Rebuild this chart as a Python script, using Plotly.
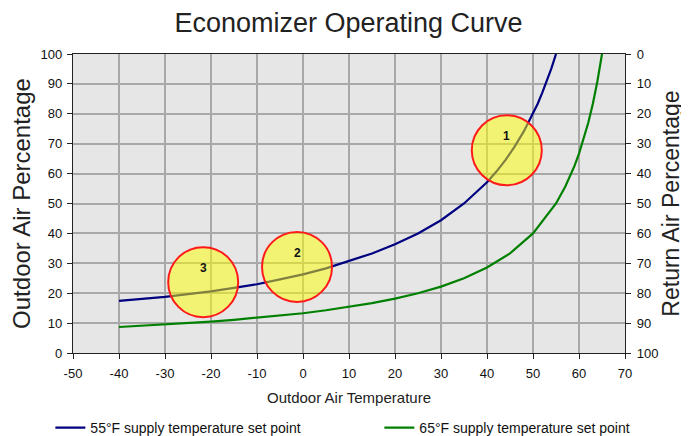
import plotly.graph_objects as go

# Outdoor air temperature (°F) and outdoor air percentage
blue_x = [-40, -35, -30, -25, -20, -15, -10, -5, 0, 5, 10, 15, 20, 25, 30, 35, 40,
          42, 44, 46, 48, 50, 51, 52, 53, 54, 55]
blue_y = [17.4, 18.0, 18.8, 19.7, 20.6, 21.8, 23.0, 24.6, 26.3, 28.3, 30.8, 33.3, 36.4,
          40.0, 44.4, 50.0, 57.1, 60.6, 64.5, 69.0, 74.1, 80.0, 83.3, 87.0, 90.9, 95.2, 100]

green_x = [-40, -35, -30, -25, -20, -15, -10, -5, 0, 5, 10, 15, 20, 25, 30, 35, 40,
           45, 50, 55, 57, 59, 60, 61, 62, 63, 64, 65]
green_y = [8.7, 9.1, 9.5, 10.0, 10.5, 11.1, 11.8, 12.5, 13.3, 14.3, 15.4, 16.7, 18.2,
           20.0, 22.2, 25.0, 28.6, 33.3, 40.0, 50.0, 55.6, 62.5, 66.7, 71.4, 76.9, 83.3,
           90.9, 100]

# Highlight circles: label, center temperature, center percentage
circle_labels = ["1", "2", "3"]
circle_x = [44.3, -1.3, -21.7]
circle_y = [67.8, 28.8, 23.7]

series_names = ["55°F supply temperature set point", "65°F supply temperature set point"]

x_ticks = list(range(-50, 71, 10))
x_ticktext = [str(v) for v in x_ticks]
y_ticks = list(range(0, 101, 10))
y_ticktext = [str(v) for v in y_ticks]

fig = go.Figure()
fig.add_trace(go.Scatter(x=blue_x, y=blue_y, mode="lines", name=series_names[0],
                         line=dict(color="#000080", width=2.2), legend="legend"))
fig.add_trace(go.Scatter(x=green_x, y=green_y, mode="lines", name=series_names[1],
                         line=dict(color="#008000", width=2.2), legend="legend2"))
# right-axis carrier (return air percentage)
fig.add_trace(go.Scatter(x=[None], y=[None], yaxis="y2", showlegend=False,
                         hoverinfo="skip"))

# circles sized in pixels: plot is 552 px / 120 units wide, 299 px / 100 units tall
r_px = 35
px_per_x = 552 / 120
px_per_y = 299 / 100
for lab, cx, cy in zip(circle_labels, circle_x, circle_y):
    rx = r_px / px_per_x
    ry = r_px / px_per_y
    fig.add_shape(type="circle", xref="x", yref="y",
                  x0=cx - rx, x1=cx + rx, y0=cy - ry, y1=cy + ry,
                  fillcolor="rgba(255,255,0,0.5)", line=dict(color="#ff1a1a", width=2),
                  layer="above")
    fig.add_annotation(x=cx, y=cy + 14 / px_per_y, text="<b>" + lab + "</b>",
                       showarrow=False, font=dict(size=12, color="#111",
                                                  family="Liberation Sans, Arial"))

axis_common = dict(showline=True, linecolor="#222", linewidth=1.2, ticks="outside",
                   ticklen=5, tickcolor="#222", tickfont=dict(size=13, color="#111"),
                   zeroline=False, automargin=False)

legend_common = dict(orientation="h", xanchor="left", y=-0.251, yanchor="middle",
                     font=dict(size=14, color="#111"), bgcolor="rgba(0,0,0,0)")

# page body has an 8px default margin, so the figure is 8px smaller than the window
fig.update_layout(
    width=681, height=428,
    margin=dict(l=65, r=64, t=46, b=83, autoexpand=False),
    paper_bgcolor="white", plot_bgcolor="#e6e6e6",
    font=dict(family="Liberation Sans, Arial, sans-serif", color="#222"),
    title=dict(text="Economizer Operating Curve", x=0.5, xanchor="center",
               y=0.967, yanchor="middle", font=dict(size=27, color="#222")),
    xaxis=dict(range=[-50, 70], tickvals=x_ticks, ticktext=x_ticktext, showgrid=True,
               gridcolor="#a8a8a8", gridwidth=1.5, mirror=True, ticklabelstandoff=3,
               title=dict(text="Outdoor Air Temperature", font=dict(size=15), standoff=12),
               **axis_common),
    yaxis=dict(range=[0, 100], tickvals=y_ticks, ticktext=y_ticktext, showgrid=True,
               gridcolor="#a8a8a8", gridwidth=1.5, ticklabelstandoff=2,
               title=dict(text="Outdoor Air Percentage", font=dict(size=24), standoff=9),
               **axis_common),
    yaxis2=dict(range=[100, 0], tickvals=y_ticks, ticktext=y_ticktext, overlaying="y",
                side="right", showgrid=False, ticklabelstandoff=3,
                title=dict(text="Return Air Percentage", font=dict(size=23), standoff=5),
                **axis_common),
    legend=dict(x=-0.041, **legend_common),
    legend2=dict(x=0.555, **legend_common),
    showlegend=True,
)

fig.write_html("out.html")
